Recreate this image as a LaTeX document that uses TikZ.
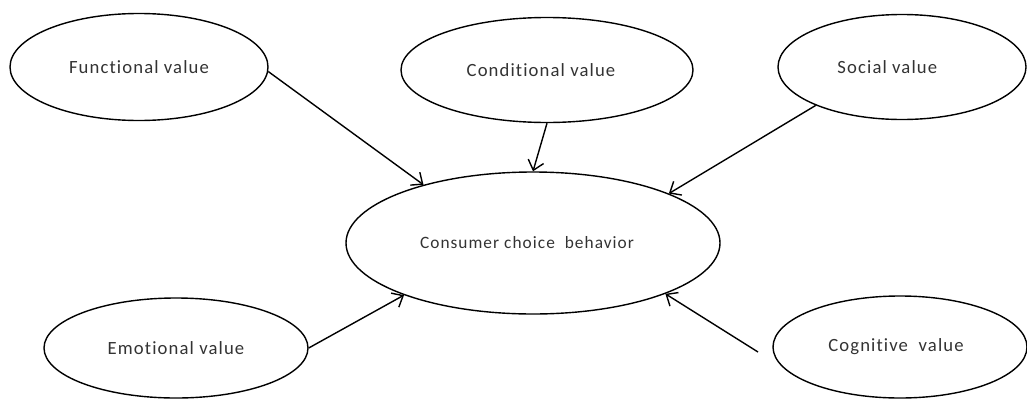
\documentclass[tikz,border=0pt]{standalone}
\usepackage{fontspec}
\setmainfont{Carlito}[LetterSpace=6,Ligatures=NoCommon]
\usetikzlibrary{shapes.geometric,arrows.meta}
\begin{document}
\begin{tikzpicture}[x=0.75pt,y=-0.75pt,
  val/.style={draw=black,ellipse,line width=1.05pt,inner sep=0pt,
    font=\fontsize{14}{16}\selectfont,text=black!80},
  arr/.style={line width=1.05pt,-{Straight Barb[length=7pt,width=12pt,line width=1.05pt]}}]
\useasboundingbox (0,0) rectangle (1027,400);
\node[val,minimum width=258*0.75pt,minimum height=107*0.75pt] (func) at (139,67) {Functional value};
\node[val,minimum width=292*0.75pt,minimum height=105*0.75pt] (cond) at (547,70) {Conditional value\hspace*{9pt}};
\node[val,minimum width=248*0.75pt,minimum height=105*0.75pt] (soc) at (902,67) {Social value\hspace*{22pt}};
\node[val,minimum width=374*0.75pt,minimum height=142*0.75pt,font=\fontsize{13}{15}\selectfont] (cons) at (533,243) {Consumer choice\ \ behavior\hspace*{9pt}};
\node[val,minimum width=264*0.75pt,minimum height=100*0.75pt] (emo) at (176,348) {Emotional value};
\node[val,minimum width=254*0.75pt,minimum height=102*0.75pt] (cog) at (900,347) {Cognitive\ \ value\hspace*{6pt}};
\coordinate (cogstart) at (758,352);
\draw[arr] (func.-2) -- (cons.152.6);
\draw[arr] (cond.south) -- (cons.north);
\draw[arr] (soc.204.7) -- (cons.20.5);
\draw[arr] (emo.east) -- (cons.202);
\draw[arr] (cogstart) -- (cons.339);
\end{tikzpicture}
\end{document}
